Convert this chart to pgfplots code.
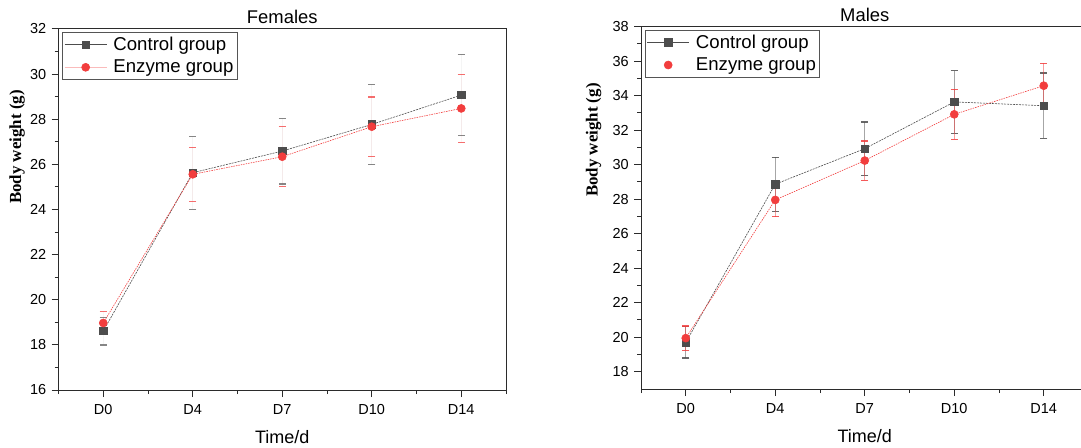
\documentclass[border=0pt]{standalone}
\usepackage{fontspec}
\setmainfont{Liberation Sans}
\newfontfamily\labelserif{Liberation Serif}
\usepackage{pgfplots}
\usepackage{pgfplotstable}
\pgfplotsset{compat=1.18}

\definecolor{ctrl}{HTML}{4D4D4D}
\definecolor{enz}{HTML}{F23D3D}
\definecolor{axisgray}{HTML}{2B2B2B}

% body weight, mean and error, per time point (0=D0 ... 4=D14)
\pgfplotstableread{
x y e
0 18.61 0.62
1 25.63 1.62
2 26.59 1.46
3 27.77 1.78
4 29.07 1.80
}\femctrl
\pgfplotstableread{
x y e
0 18.97 0.51
1 25.56 1.20
2 26.34 1.33
3 27.67 1.32
4 28.48 1.50
}\femenz
\pgfplotstableread{
x y e
0 19.70 0.90
1 28.87 1.56
2 30.93 1.55
3 33.64 1.81
4 33.42 1.90
}\malectrl
\pgfplotstableread{
x y e
0 19.95 0.70
1 27.96 0.97
2 30.24 1.14
3 32.92 1.45
4 34.58 1.30
}\maleenz

\pgfplotsset{
  linelegend/.style={legend image code/.code={\draw[mark repeat=2,mark phase=2,##1]
      plot coordinates {(0bp,0bp) (21bp,0bp) (42bp,0bp)};}},
  dotlegend/.style={legend image code/.code={\draw[##1]
      plot coordinates {(21bp,0bp)};}},
  bw/.style={
    scale only axis, width=447.5bp,
    xmin=-0.5, xmax=4.5,
    xtick={0,...,4}, xticklabels={D0,D4,D7,D10,D14},
    minor xtick={-0.5,0.5,...,4.5},
    minor y tick num=1,
    tick align=outside, xtick pos=bottom, ytick pos=left,
    major tick length=7bp, minor tick length=4bp,
    every tick/.style={axisgray, line width=1bp},
    axis line style={axisgray, line width=1bp},
    /pgf/number format/assume math mode=true,
    tick label style={font=\fontsize{14.5bp}{16bp}\selectfont},
    yticklabel style={inner sep=0pt, anchor=east, xshift=-5bp},
    xticklabel style={inner sep=0pt, anchor=north, yshift=-7bp},
    title style={font=\fontsize{18.4bp}{20bp}\selectfont, at={(0.5,1)},
      anchor=base, inner sep=0pt, yshift=-0.5bp},
    xlabel style={font=\fontsize{18bp}{20bp}\selectfont,
      at={(axis description cs:0.5,0)}, anchor=base, inner sep=0pt, yshift=-53bp},
    ylabel style={font=\labelserif\bfseries\fontsize{16.9bp}{18bp}\selectfont,
      anchor=center, inner sep=0pt},
    xlabel={Time/d}, ylabel={Body weight (g)},
    legend cell align=left,
    legend style={anchor=north west, draw=axisgray!80, line width=0.6bp,
      font=\fontsize{18.6bp}{20bp}\selectfont,
      inner xsep=2bp, inner ysep=3.5bp, row sep=5bp,
      nodes={inner sep=1.5bp},
      /tikz/every odd column/.append style={column sep=5bp}},
    linelegend,
  },
  ctrlline/.style={ctrl, line width=0.6bp, dash pattern=on 2bp off 1bp,
    mark=square*, mark size=3.65bp, mark options={solid, fill=ctrl, draw=ctrl}},
  enzline/.style={enz, line width=0.6bp, dash pattern=on 1.5bp off 1bp,
    mark=*, mark size=4bp, mark options={solid, fill=enz, draw=enz}},
}

\begin{document}
\begin{tikzpicture}
\path[use as bounding box, clip] (0,0) rectangle (1081bp,448bp);

% Females
\begin{axis}[bw, at={(58.5bp,58bp)}, anchor=south west, height=361bp,
  ymin=16, ymax=32, ytick={16,18,...,32},
  title={Females},
  ylabel style={at={(axis description cs:-0.0927,0.673)}},
  legend style={at={(axis description cs:0.008,0.992)}}]
\addplot+[ctrlline, legend image post style={solid},
  error bars/.cd, y dir=both, y explicit,
  error bar style={solid, line width=0.8bp, draw=ctrl, draw opacity=0.06},
  error mark options={rotate=90, mark size=3.6bp, line width=1.2bp, draw=ctrl!85, draw opacity=0.8}]
  table[x=x, y=y, y error=e] {\femctrl};
\addlegendentry{Control group}
\addplot+[enzline, legend image post style={solid, draw=enz!35},
  error bars/.cd, y dir=both, y explicit,
  error bar style={solid, line width=0.8bp, draw=enz, draw opacity=0.06},
  error mark options={rotate=90, mark size=3.6bp, line width=1.2bp, draw=enz, draw opacity=0.75}]
  table[x=x, y=y, y error=e] {\femenz};
\addlegendentry{Enzyme group}
\end{axis}

% Males
\begin{axis}[bw, at={(641bp,59bp)}, anchor=south west, height=362.3bp,
  ymin=17, ymax=38, ytick={18,20,...,38},
  title={Males},
  ylabel style={at={(axis description cs:-0.106,0.687)}},
  legend style={at={(axis description cs:0.008,0.992)}}]
\addplot+[ctrlline, legend image post style={solid},
  error bars/.cd, y dir=both, y explicit,
  error bar style={solid, line width=0.8bp, draw=ctrl, draw opacity=0.5},
  error mark options={rotate=90, mark size=3.6bp, line width=1.2bp, draw=ctrl, draw opacity=0.85}]
  table[x=x, y=y, y error=e] {\malectrl};
\addlegendentry{Control group}
\addplot+[enzline, dotlegend,
  error bars/.cd, y dir=both, y explicit,
  error bar style={solid, line width=0.8bp, draw=enz, draw opacity=0.5},
  error mark options={rotate=90, mark size=3.6bp, line width=1.2bp, draw=enz, draw opacity=0.85}]
  table[x=x, y=y, y error=e] {\maleenz};
\addlegendentry{Enzyme group}
\end{axis}
\end{tikzpicture}
\end{document}
